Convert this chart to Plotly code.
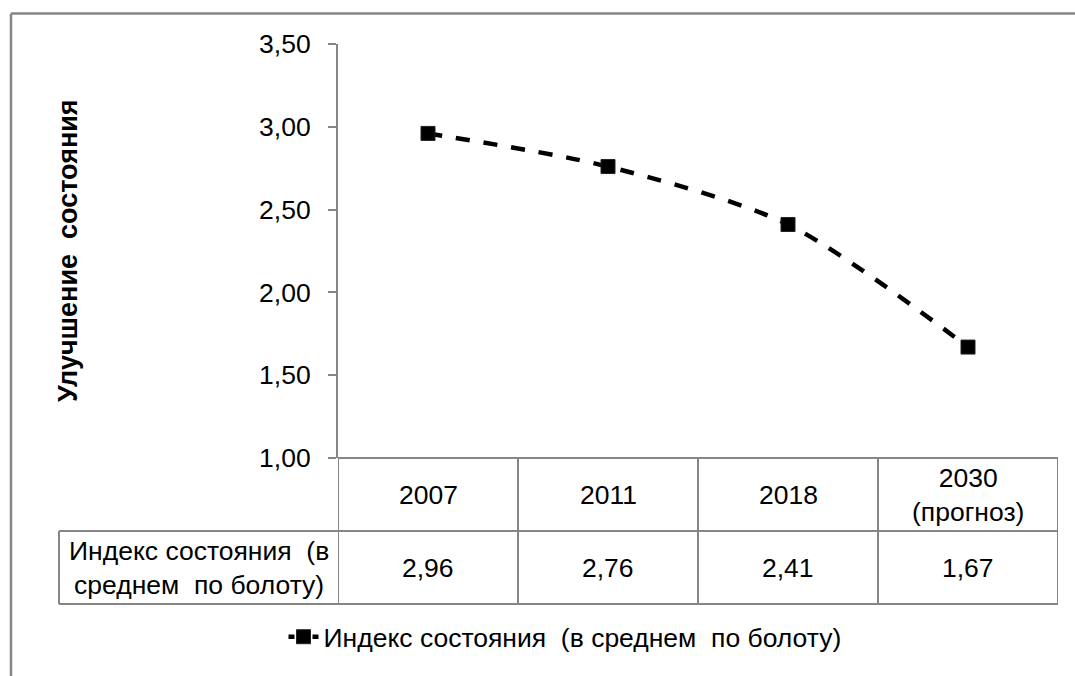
import plotly.graph_objects as go

# Data
years = ["2007", "2011", "2018", "2030<br>(прогноз)"]
index_values = [2.96, 2.76, 2.41, 1.67]
series_name = "Индекс состояния  (в среднем  по болоту)"
row_label = "Индекс состояния  (в<br>среднем  по болоту)"
y_title = "Улучшение  состояния"
y_ticks = [1.0, 1.5, 2.0, 2.5, 3.0, 3.5]

# Layout geometry (pixels)
W, H = 1075, 676
PL, PR, PT, PB = 338, 1058, 44, 458          # plot area
ROW1_BOTTOM, ROW2_BOTTOM = 531, 604          # data-table rows
ROW_HEAD_LEFT = 59
GRAY = "#868686"
FONT = "Arial, Liberation Sans, sans-serif"
FS = 26.5


def px_x(px):
    return (px - PL) / (PR - PL)


def px_y(py):
    return (PB - py) / (PB - PT)


line_style = dict(color="black", width=4.5, shape="spline", smoothing=0.8)
marker_style = dict(symbol="square", size=14, color="black", line=dict(color="#222", width=1))

fig = go.Figure()
fig.add_trace(go.Scatter(
    x=list(range(len(years))),
    y=index_values,
    mode="lines+markers",
    name=series_name,
    line=dict(line_style, dash="14px,14px"),
    marker=marker_style,
    showlegend=False,
))
# legend entry: short dash on each side of the marker
fig.add_trace(go.Scatter(
    x=[None], y=[None],
    mode="lines+markers",
    name=series_name,
    line=dict(color="black", width=4.5, dash="6px,18px"),
    marker=marker_style,
    showlegend=True,
))

shapes = []
# chart frame (top and left edges)
shapes.append(dict(type="line", xref="paper", yref="paper",
                   x0=px_x(11), x1=px_x(1090), y0=px_y(13.5), y1=px_y(13.5),
                   line=dict(color=GRAY, width=2.5)))
shapes.append(dict(type="line", xref="paper", yref="paper",
                   x0=px_x(11), x1=px_x(11), y0=px_y(13.5), y1=px_y(690),
                   line=dict(color=GRAY, width=2.5)))

# data table grid
n = len(years)
for i in range(n + 1):
    shapes.append(dict(type="line", xref="x", yref="paper",
                       x0=i - 0.5, x1=i - 0.5, y0=0, y1=px_y(ROW2_BOTTOM),
                       line=dict(color=GRAY, width=2)))
shapes.append(dict(type="line", xref="paper", yref="paper",
                   x0=0, x1=1, y0=0, y1=0, line=dict(color=GRAY, width=2)))
shapes.append(dict(type="line", xref="paper", yref="paper",
                   x0=px_x(ROW_HEAD_LEFT), x1=1, y0=px_y(ROW1_BOTTOM), y1=px_y(ROW1_BOTTOM),
                   line=dict(color=GRAY, width=2)))
shapes.append(dict(type="line", xref="paper", yref="paper",
                   x0=px_x(ROW_HEAD_LEFT), x1=1, y0=px_y(ROW2_BOTTOM), y1=px_y(ROW2_BOTTOM),
                   line=dict(color=GRAY, width=2)))
shapes.append(dict(type="line", xref="paper", yref="paper",
                   x0=px_x(ROW_HEAD_LEFT), x1=px_x(ROW_HEAD_LEFT),
                   y0=px_y(ROW1_BOTTOM), y1=px_y(ROW2_BOTTOM),
                   line=dict(color=GRAY, width=2)))

annotations = []
row1_mid = px_y((PB + ROW1_BOTTOM) / 2)
row2_mid = px_y((ROW1_BOTTOM + ROW2_BOTTOM) / 2)
for i, (yr, v) in enumerate(zip(years, index_values)):
    annotations.append(dict(x=i, y=row1_mid, xref="x", yref="paper", text=yr,
                            showarrow=False, font=dict(family=FONT, size=FS, color="black"),
                            xanchor="center", yanchor="middle"))
    annotations.append(dict(x=i, y=row2_mid, xref="x", yref="paper",
                            text=f"{v:.2f}".replace(".", ","),
                            showarrow=False, font=dict(family=FONT, size=FS, color="black"),
                            xanchor="center", yanchor="middle"))
annotations.append(dict(x=px_x((ROW_HEAD_LEFT + PL) / 2), y=row2_mid, xref="paper", yref="paper",
                        text=row_label, showarrow=False,
                        font=dict(family=FONT, size=FS, color="black"),
                        xanchor="center", yanchor="middle"))
annotations.append(dict(x=px_x(68), y=0.5, xref="paper", yref="paper",
                        text=f"<b>{y_title}</b>", textangle=-90, showarrow=False,
                        font=dict(family=FONT, size=27, color="black"),
                        xanchor="center", yanchor="middle"))

fig.update_layout(
    width=W, height=H,
    margin=dict(l=PL, r=W - PR, t=PT, b=H - PB),
    paper_bgcolor="white", plot_bgcolor="white",
    separators=", ",
    font=dict(family=FONT, size=FS, color="black"),
    xaxis=dict(range=[-0.5, n - 0.5], showticklabels=False, showgrid=False,
               zeroline=False, showline=False, ticks=""),
    yaxis=dict(range=[1, 3.5], tickvals=y_ticks, tickformat=".2f",
               showgrid=False, zeroline=False, showline=True, linecolor=GRAY, linewidth=2,
               ticks="outside", ticklen=8, tickcolor=GRAY, tickwidth=2,
               ticklabelstandoff=12,
               tickfont=dict(family=FONT, size=FS, color="black")),
    shapes=shapes,
    annotations=annotations,
    legend=dict(orientation="h", x=px_x(565), y=px_y(637), xanchor="center", yanchor="middle",
                font=dict(family=FONT, size=FS, color="black"), bgcolor="rgba(0,0,0,0)"),
)

fig.write_html("out.html")
